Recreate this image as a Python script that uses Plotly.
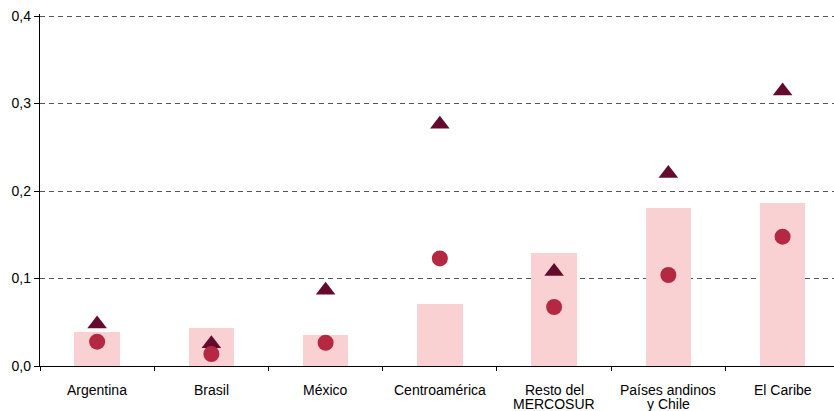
import plotly.graph_objects as go

categories = ["Argentina", "Brasil", "México", "Centroamérica",
              "Resto del<br>MERCOSUR", "Países andinos<br>y Chile", "El Caribe"]
bar_vals = [0.0385, 0.0434, 0.036, 0.0709, 0.129, 0.181, 0.186]
circle_vals = [0.0278, 0.0137, 0.0266, 0.123, 0.0674, 0.104, 0.1478]
triangle_vals = [0.0481, 0.0254, 0.0866, 0.2763, 0.1079, 0.2199, 0.3144]
y_ticks = [0.0, 0.1, 0.2, 0.3, 0.4]

BAR_COLOR = "#F9D1D3"
CIRCLE_COLOR = "#B42841"
TRI_COLOR = "#650A2F"
FONT = "Liberation Sans, Arial, sans-serif"

fig = go.Figure()
fig.add_trace(go.Bar(x=categories, y=bar_vals, width=0.4,
                     marker=dict(color=BAR_COLOR, line=dict(width=0)),
                     showlegend=False, hoverinfo="skip"))
fig.add_trace(go.Scatter(x=categories, y=triangle_vals, mode="markers",
                         marker=dict(symbol="triangle-up", size=17, color=TRI_COLOR,
                                     line=dict(width=0)),
                         showlegend=False))
fig.add_trace(go.Scatter(x=categories, y=circle_vals, mode="markers",
                         marker=dict(symbol="circle", size=16, color=CIRCLE_COLOR,
                                     line=dict(width=0)),
                         showlegend=False))

annotations = []
for c in categories:
    lines = c.split("<br>")
    for i, ln in enumerate(lines):
        annotations.append(dict(x=c, xref="x", y=0, yref="paper", text=ln,
                                showarrow=False, yanchor="middle",
                                yshift=-24 - 13.5 * i,
                                font=dict(family=FONT, size=14, color="#000")))

fig.update_layout(
    width=834, height=411,
    margin=dict(l=40, r=0, t=14, b=45, autoexpand=False),
    paper_bgcolor="white", plot_bgcolor="white",
    separators=",.",
    font=dict(family=FONT, size=14, color="#000"),
    bargap=0,
    annotations=annotations,
    xaxis=dict(type="category", range=[-0.5, 6.45], tickson="boundaries",
               showticklabels=False, ticks="outside", ticklen=4, tickcolor="#000",
               showline=True, linecolor="#000", linewidth=1.3, showgrid=False,
               zeroline=False, fixedrange=True, automargin=False),
    yaxis=dict(range=[0, 0.40229], tickvals=y_ticks, tickformat=".1f",
               ticks="outside", ticklen=5, tickcolor="#000",
               showline=True, linecolor="#000", linewidth=1.3,
               showgrid=True, gridcolor="#555", gridwidth=1, griddash="5px,4px",
               zeroline=False, automargin=False, fixedrange=True,
               tickfont=dict(family=FONT, size=14, color="#000")),
)

fig.write_html("out.html",
               config={"displayModeBar": False},
               post_script="document.body.style.margin='0px';document.body.style.overflow='hidden';")
